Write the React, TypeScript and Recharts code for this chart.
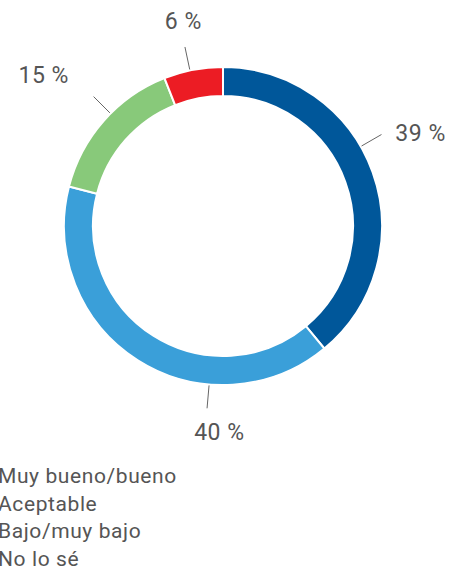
import { PieChart, Pie, Cell } from 'recharts';

// Valoración (porcentaje de respuestas)
const CATEGORIES = ['Muy bueno/bueno', 'Aceptable', 'Bajo/muy bajo', 'No lo sé'];
const VALUES = [39, 40, 15, 6];
const COLORS = ['#00579A', '#3A9FD9', '#88C97A', '#EC1C24'];

// dónde va cada etiqueta (grados en sentido horario desde arriba)
const LINE_ANGLES = [60, 185, 315, 348];
const TEXT_ANGLES = [65, 181, 310, 349];
const TEXT_GAP = [59, 48, 75, 49];

const FONT = 'Roboto, "Noto Sans", sans-serif';
const TEXT_COLOR = '#555';

const data = CATEGORIES.map((name, i) => ({ name, value: VALUES[i] }));

const polar = (cx: number, cy: number, r: number, deg: number) => {
  const rad = (deg * Math.PI) / 180;
  return { x: cx + r * Math.sin(rad), y: cy - r * Math.cos(rad) };
};

function renderLabel(props: any) {
  const { cx, cy, outerRadius, index, value } = props;
  const a = polar(cx, cy, outerRadius + 1, LINE_ANGLES[index]);
  const b = polar(cx, cy, outerRadius + 24, LINE_ANGLES[index]);
  const t = polar(cx, cy, outerRadius + TEXT_GAP[index], TEXT_ANGLES[index]);
  return (
    <g>
      <line x1={a.x} y1={a.y} x2={b.x} y2={b.y} stroke="#666" strokeWidth={1} />
      <text
        x={t.x}
        y={t.y}
        textAnchor="middle"
        dominantBaseline="central"
        fill={TEXT_COLOR}
        fontSize={23}
        fontFamily={FONT}
        style={{ letterSpacing: 0.5 }}
      >
        {`${value} %`}
      </text>
    </g>
  );
}

export default function App() {
  return (
    <div
      style={{
        position: 'absolute',
        left: 0,
        top: 0,
        width: 464,
        height: 576,
        overflow: 'hidden',
        background: '#fff',
      }}
    >
      <PieChart width={464} height={576} margin={{ top: 0, right: 0, bottom: 0, left: 0 }}>
        <Pie
          data={data}
          dataKey="value"
          nameKey="name"
          cx={223}
          cy={226}
          outerRadius={159}
          innerRadius={130}
          startAngle={90}
          endAngle={-270}
          stroke="#fff"
          strokeWidth={2}
          label={renderLabel}
          labelLine={false}
          isAnimationActive={false}
        >
          {data.map((d, i) => (
            <Cell key={d.name} fill={COLORS[i]} />
          ))}
        </Pie>
      </PieChart>

      {/* leyenda: los cuadros de color quedan fuera del borde izquierdo */}
      <div
        style={{
          position: 'absolute',
          left: -2,
          top: 463,
          fontFamily: FONT,
          fontSize: 21,
          color: TEXT_COLOR,
          lineHeight: '27.5px',
          letterSpacing: 0.6,
          whiteSpace: 'nowrap',
        }}
      >
        {CATEGORIES.map((c, i) => (
          <div key={c} style={{ position: 'relative' }}>
            <span
              style={{
                position: 'absolute',
                left: -26,
                top: 6,
                width: 14,
                height: 14,
                background: COLORS[i],
              }}
            />
            {c}
          </div>
        ))}
      </div>
    </div>
  );
}
